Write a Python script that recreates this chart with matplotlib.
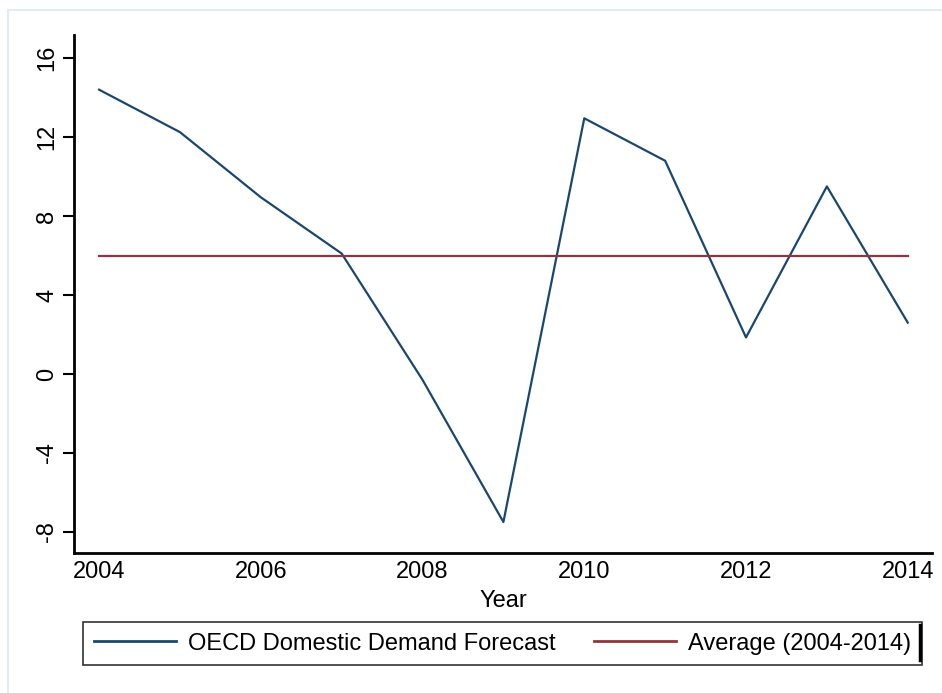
import matplotlib
matplotlib.use("Agg")
import matplotlib.pyplot as plt
from matplotlib.patches import Rectangle

plt.rcParams["font.family"] = ["Liberation Sans", "DejaVu Sans"]
plt.rcParams["axes.unicode_minus"] = False

# Data
years = [2004, 2005, 2006, 2007, 2008, 2009, 2010, 2011, 2012, 2013, 2014]
forecast = [14.4, 12.25, 8.95, 6.1, -0.3, -7.5, 12.95, 10.8, 1.85, 9.5, 2.6]
average = 6.0
y_ticks = [-8, -4, 0, 4, 8, 12, 16]
x_ticks = [2004, 2006, 2008, 2010, 2012, 2014]

NAVY = "#1a476f"
MAROON = "#90353b"

W, H = 942, 693
fig = plt.figure(figsize=(W / 100, H / 100), dpi=100)

# faint outer frame like the Stata graph region
fig.patches.append(Rectangle((8 / W, -0.1), 1.2, 1 - 10 / H + 0.1, transform=fig.transFigure,
                             fill=False, ec="#e3ecf0", lw=1.5))

ax = fig.add_axes([74 / W, 1 - 553 / H, (932 - 74) / W, (553 - 35) / H])
ax.plot(years, forecast, color=NAVY, lw=1.6, label="OECD Domestic Demand Forecast")
ax.plot([years[0], years[-1]], [average, average], color=MAROON, lw=1.6,
        label="Average (2004-2014)")

ax.set_xlim(2003.69, 2014.3)
ax.set_ylim(-9.07, 17.17)
ax.set_xticks(x_ticks)
ax.set_yticks(y_ticks)
ax.tick_params(axis="both", labelsize=17, length=8, width=1.5, color="black")
ax.tick_params(axis="x", length=0, pad=6)
plt.setp(ax.get_yticklabels(), rotation=90, va="center")
for side in ["top", "right"]:
    ax.spines[side].set_visible(False)
for side in ["left", "bottom"]:
    ax.spines[side].set_linewidth(2)
ax.set_xlabel("Year", fontsize=17, labelpad=5)

leg = fig.legend(loc="upper left", ncol=2, mode="expand",
                 bbox_to_anchor=(83 / W, 1 - 666 / H, (922 - 83) / W, 44 / H),
                 borderaxespad=0, fontsize=17, handlelength=3.5, handletextpad=0.5,
                 fancybox=False, edgecolor="#333333", framealpha=1,
                 borderpad=0.45, columnspacing=1.0)
leg.get_frame().set_linewidth(1.2)
for line in leg.get_lines():
    line.set_linewidth(2)

# dark right edge of the legend box seen in the reference
fig.add_artist(plt.Line2D([920 / W, 920 / W], [1 - 660 / H, 1 - 625 / H],
                          transform=fig.transFigure, color="black", lw=2.5, zorder=20))

fig.savefig("out.png", dpi=100)
